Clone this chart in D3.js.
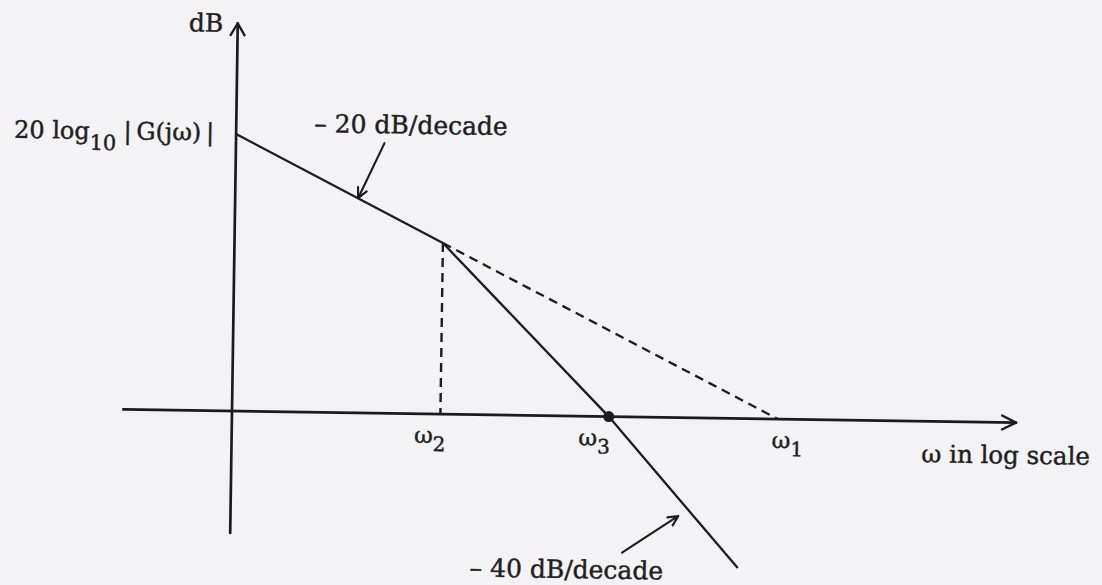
<!DOCTYPE html>
<html>
<head>
<meta charset="utf-8">
<script src="https://cdn.jsdelivr.net/npm/d3@7"></script>
<style>
  html, body { margin: 0; padding: 0; background: #f3f3f5; }
  svg { display: block; }
  .label { font-family: 'DejaVu Serif', serif; fill: #1f1f22; stroke: #1f1f22; stroke-width: 0.45px; }
</style>
</head>
<body>
<svg id="chart"></svg>
<script>
// Asymptotic Bode magnitude plot
// frequencies are on a log axis, magnitudes in dB
const gainAtAxis = 40;                       // 20 log10 |G(jw)| at the dB axis (w = 1)
const breakFreqs = [5.8, 24, 100];           // w2, w3, w1
const breakSubs = ['2', '3', '1'];
const omegaDomain = [0.4, 745];              // extent of the w axis
const dbDomain = [-17.6, 56];                // extent of the dB axis

const slope20Solid = [[1, 40], [5.8, 24.7]];
const slope20Dashed = [[5.8, 24.7], [100, 0]];
const slope40Solid = [[5.8, 24.7], [24, 0], [72.6, -21.6]];
const dropLine = [[5.8, 24.7], [5.8, 0]];
const crossing = [[24, 0]];

// annotation arrows: [tail, tip] in (w, dB)
const noteArrows = [
  [[3.5, 39.0], [2.82, 31.0]],
  [[27.3, -19.6], [43.7, -14.2]]
];
const noteTexts = ['\u2013 20 dB/decade', '\u2013 40 dB/decade'];

class BodeSketch {

  constructor(_config) {
    this.config = {
      parentElement: _config.parentElement,
      containerWidth: _config.containerWidth || 1102,
      containerHeight: _config.containerHeight || 585,
      // the scan is turned slightly clockwise
      tilt: 0.85,
      origin: {x: 232, y: 411}
    };
    this.initVis();
  }

  initVis() {
    let vis = this;

    vis.svg = d3.select(vis.config.parentElement)
        .attr('width', vis.config.containerWidth)
        .attr('height', vis.config.containerHeight);

    vis.svg.append('rect')
        .attr('width', vis.config.containerWidth)
        .attr('height', vis.config.containerHeight)
        .attr('fill', '#f3f3f5');

    // one decade = 273px, 20 dB = 138.5px
    vis.xScale = d3.scaleLog()
        .domain([1, 100])
        .range([vis.config.origin.x, 778]);

    vis.yScale = d3.scaleLinear()
        .domain([0, gainAtAxis])
        .range([vis.config.origin.y, 134]);

    vis.chart = vis.svg.append('g')
        .attr('transform', `rotate(${vis.config.tilt},${vis.config.origin.x},${vis.config.origin.y})`);

    vis.line = d3.line()
        .x(d => vis.xScale(d[0]))
        .y(d => vis.yScale(d[1]));

    vis.renderVis();
  }

  renderVis() {
    let vis = this;
    const x = vis.xScale, y = vis.yScale;
    const ink = '#1c1c20';

    // axes
    const x0 = x(omegaDomain[0]), x1 = x(omegaDomain[1]);
    const yTop = y(dbDomain[1]), yBot = y(dbDomain[0]);
    const ax = vis.chart.append('g').attr('stroke', ink).attr('fill', 'none')
        .attr('stroke-width', 2.7).attr('stroke-linecap', 'round');
    ax.append('line').attr('x1', x0).attr('x2', x1).attr('y1', y(0)).attr('y2', y(0));
    ax.append('line').attr('x1', x(1)).attr('x2', x(1)).attr('y1', yBot).attr('y2', yTop);
    ax.append('path').attr('stroke-width', 2.3).attr('stroke-linejoin', 'round')
        .attr('d', `M${x1 - 14},${y(0) - 7}L${x1},${y(0)}L${x1 - 14},${y(0) + 7}`);
    ax.append('path').attr('stroke-width', 2.3).attr('stroke-linejoin', 'round')
        .attr('d', `M${x(1) - 7},${yTop + 12}L${x(1)},${yTop}L${x(1) + 7},${yTop + 12}`);

    // asymptotes
    vis.chart.append('path').datum(slope20Solid)
        .attr('d', vis.line).attr('fill', 'none').attr('stroke', ink).attr('stroke-width', 2.3);
    vis.chart.append('path').datum(slope40Solid)
        .attr('d', vis.line).attr('fill', 'none').attr('stroke', ink).attr('stroke-width', 2.3);
    vis.chart.append('path').datum(slope20Dashed)
        .attr('d', vis.line).attr('fill', 'none').attr('stroke', ink).attr('stroke-width', 2.3)
        .attr('stroke-dasharray', '9,6');
    vis.chart.append('path').datum(dropLine)
        .attr('d', vis.line).attr('fill', 'none').attr('stroke', ink).attr('stroke-width', 2.4)
        .attr('stroke-dasharray', '9,6');

    vis.chart.selectAll('.cross')
        .data(crossing)
      .join('circle')
        .attr('class', 'cross')
        .attr('cx', d => x(d[0]))
        .attr('cy', d => y(d[1]))
        .attr('r', 5.5)
        .attr('fill', ink);

    // annotation arrows with open heads
    vis.chart.selectAll('.note-arrow')
        .data(noteArrows)
      .join('path')
        .attr('class', 'note-arrow')
        .attr('fill', 'none').attr('stroke', ink).attr('stroke-width', 2.1)
        .attr('stroke-linejoin', 'round').attr('stroke-linecap', 'round')
        .attr('d', d => {
          const tx = x(d[0][0]), ty = y(d[0][1]);
          const hx = x(d[1][0]), hy = y(d[1][1]);
          const a = Math.atan2(hy - ty, hx - tx);
          const len = 11, spread = 0.45;
          const p1 = [hx - len * Math.cos(a - spread), hy - len * Math.sin(a - spread)];
          const p2 = [hx - len * Math.cos(a + spread), hy - len * Math.sin(a + spread)];
          return `M${tx},${ty}L${hx},${hy}M${p1}L${hx},${hy}L${p2}`;
        });

    // texts
    vis.chart.append('text').attr('class', 'label')
        .attr('x', 183).attr('y', 32).style('font-size', '25px').text('dB');

    const gain = vis.chart.append('text').attr('class', 'label')
        .attr('x', 10).attr('y', 141).style('font-size', '24px');
    gain.append('tspan').text('20 log');
    gain.append('tspan').attr('dy', 11).style('font-size', '21px').text('10');
    gain.append('tspan').attr('dy', -11).attr('dx', 7).text('|\u2009G(j\u03c9)\u2009|');

    const notePos = [{x: 310, y: 131}, {x: 472, y: 573}];
    vis.chart.selectAll('.note')
        .data(noteTexts)
      .join('text')
        .attr('class', 'label note')
        .attr('x', (d, i) => notePos[i].x)
        .attr('y', (d, i) => notePos[i].y)
        .style('font-size', '25px')
        .text(d => d);

    const labelShift = [-26, -30, -6];
    const wl = vis.chart.selectAll('.wlabel')
        .data(breakFreqs)
      .join('text')
        .attr('class', 'label wlabel')
        .attr('x', (d, i) => x(d) + labelShift[i])
        .attr('y', 440)
        .style('font-size', '23px');
    wl.append('tspan').text('\u03c9');
    wl.append('tspan').attr('dy', 8).style('font-size', '20px').text((d, i) => breakSubs[i]);

    vis.chart.append('text').attr('class', 'label')
        .attr('x', 922).attr('y', 452).style('font-size', '24.5px')
        .text('\u03c9 in log scale');
  }
}

new BodeSketch({parentElement: '#chart'});
</script>
</body>
</html>
